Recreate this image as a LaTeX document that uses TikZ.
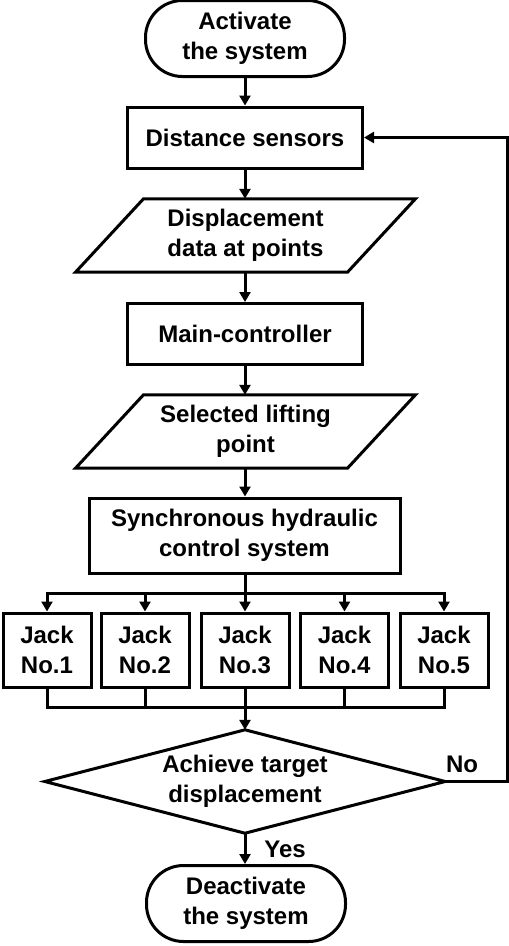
\documentclass[tikz,border=0pt]{standalone}
\usepackage{fontspec}
\setmainfont{Liberation Sans}
\usetikzlibrary{shapes.geometric,arrows.meta,calc}
\begin{document}
\begin{tikzpicture}[x=1pt,y=-1pt,
  every node/.style={font=\fontsize{24}{29.5}\selectfont\bfseries, align=center, inner sep=0pt},
  ln/.style={line width=3pt},
  arr/.style={line width=3pt, -{Triangle[length=10pt,width=11pt]}},
  box/.style={draw, line width=3pt, minimum width=235pt, minimum height=61pt},
  term/.style={draw, line width=3pt, rounded corners=37pt, minimum width=199pt, minimum height=76pt},
  para/.style={minimum width=200pt, minimum height=73pt},
  jack/.style={draw, line width=3pt, minimum width=88pt, minimum height=74pt},
  dia/.style={minimum width=400pt, minimum height=103pt},
  lbl/.style={font=\fontsize{24}{29.5}\selectfont\bfseries}
]
\useasboundingbox (0,0) rectangle (509,946);

\node[term] (start) at (245,38.5) {Activate\\the system};
\node[box] (ds) at (245,137.5) {Distance sensors};
\node[para] (p1) at (245.5,235.5) {Displacement\\data at points};
\node[box] (mc) at (245,334) {Main-controller};
\node[para] (p2) at (245.5,431.5) {Selected lifting\\point};
\node[box, minimum width=311pt, minimum height=75pt] (sync) at (244.5,535.5) {Synchronous hydraulic\\control system};

\node[jack] (j1) at (47,650) {Jack\\No.1};
\node[jack] (j2) at (145,650) {Jack\\No.2};
\node[jack] (j3) at (245,650) {Jack\\No.3};
\node[jack] (j4) at (344.5,650) {Jack\\No.4};
\node[jack] (j5) at (444,650) {Jack\\No.5};

\node[dia] (d) at (245,781.5) {Achieve target\\displacement};
\node[term] (end) at (246,903.5) {Deactivate\\the system};

% parallelogram and diamond outlines
\draw[ln, line join=miter] ([xshift=-102pt]p1.north) -- ([xshift=170pt]p1.north) -- ([xshift=102pt]p1.south) -- ([xshift=-170pt]p1.south) -- cycle;
\draw[ln, line join=miter] ([xshift=-102pt]p2.north) -- ([xshift=170pt]p2.north) -- ([xshift=102pt]p2.south) -- ([xshift=-170pt]p2.south) -- cycle;
\draw[ln, line join=miter] (d.north) -- (d.east) -- (d.south) -- (d.west) -- cycle;

\coordinate (br) at (245,593);
\coordinate (co) at (245,707);
\coordinate (rt) at (507,781.5);

\draw[arr] (start.south) -- (ds.north);
\draw[arr] (ds.south) -- (ds.south |- p1.north);
\draw[arr] (ds.south |- p1.south) -- (mc.north);
\draw[arr] (mc.south) -- (mc.south |- p2.north);
\draw[arr] (mc.south |- p2.south) -- (mc.south |- sync.north);

\draw[ln] (mc.south |- sync.south) -- (br);
\draw[ln, line cap=rect] (j1.north |- br) -- (j5.north |- br);
\foreach \i in {1,...,5} {
  \draw[arr] (j\i.north |- br) -- (j\i.north);
  \draw[ln] (j\i.south) -- (j\i.south |- co);
}
\draw[ln, line cap=rect] (j1.south |- co) -- (j5.south |- co);
\draw[arr] (co) -- (d.north);

\draw[arr, line join=miter] (d.east) -- (rt) |- (ds.east);
\node[lbl] (no) at (462,764) {No};

\draw[arr] (d.south) -- (d.south |- end.north);
\node[lbl] (yes) at (285,849) {Yes};
\end{tikzpicture}
\end{document}
